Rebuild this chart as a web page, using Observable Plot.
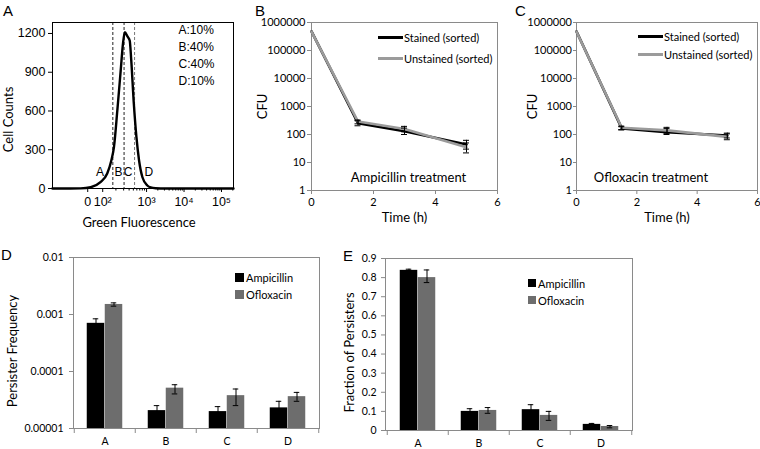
<!DOCTYPE html>
<html><head><meta charset="utf-8">
<script src="https://cdn.jsdelivr.net/npm/d3@7"></script>
<script src="https://cdn.jsdelivr.net/npm/@observablehq/plot@0.6"></script>
<style>
body{margin:0;background:#fff;}
#fig{position:relative;width:760px;height:449px;overflow:hidden;background:#fff;}
#fig svg{overflow:visible;}
.letter{position:absolute;font:15px "Liberation Sans",Arial,sans-serif;line-height:15px;color:#000;}
.leg{position:absolute;display:flex;align-items:center;height:14px;font:11px Lato,sans-serif;color:#000;white-space:nowrap;}
</style></head>
<body>
<div id="fig"></div>
<script>
// ---------- Panel A: histogram (display units: 10^3 -> 3, 10^4 -> 4 ...) ----------
const fluorPos   = [0.49,0.97,1.24,1.51,1.77,1.95,2.06,2.13,2.22,2.31,2.37,2.42,2.49,2.55,2.59,2.66,2.73,2.80,2.89,3.02,3.11,3.24,3.51,5.32];
const cellCounts = [0,0,1,10,49,116,217,320,604,914,1120,1210,1177,1146,1000,658,397,217,87,23,8,2,0,0];
const gatePos = [2.10, 2.40, 2.68];
const gateLetters = ["A","B","C","D"];
const gateLetterPos = [1.76, 2.25, 2.51, 3.06];
const gateLetterCount = 125;
const gatePercents = ["A:10%","B:40%","C:40%","D:10%"];
const fluorTickPos = [1.43, 1.83, 3, 4, 5];
const fluorTickLabels = ["0","10²","10³","10⁴","10⁵"];
const countTicks = [0,300,600,900,1200];
const countDomain = [0,1285];
const fluorDomain = [0.49,5.32];

// ---------- Panels B, C: CFU time courses ----------
const timeH = [0, 1.5, 3, 5];
const seriesNames = ["Stained (sorted)", "Unstained (sorted)"];
const ampStained     = [480000, 252, 131, 44];
const ampStainedLo   = [null, 205, 100, 30];
const ampStainedHi   = [null, 310, 170, 62];
const ampUnstained   = [470000, 290, 158, 35];
const ampUnstainedLo = [null, 240, 125, 22];
const ampUnstainedHi = [null, 330, 195, 50];
const oflStained     = [480000, 165, 120, 92];
const oflStainedLo   = [null, 145, 100, 75];
const oflStainedHi   = [null, 190, 165, 112];
const oflUnstained   = [470000, 175, 140, 82];
const oflUnstainedLo = [null, 150, 110, 65];
const oflUnstainedHi = [null, 200, 180, 105];
const cfuTicks = [1,10,100,1000,10000,100000,1000000];
const timeTicks = [0,2,4,6];

// ---------- Panels D, E: persisters ----------
const gates = ["A","B","C","D"];
const drugs = ["Ampicillin","Ofloxacin"];
const ampFreq   = [7.0e-4, 2.06e-5, 1.98e-5, 2.3e-5];
const ampFreqLo = [5.6e-4, 1.6e-5, 1.55e-5, 1.6e-5];
const ampFreqHi = [8.4e-4, 2.52e-5, 2.42e-5, 3.0e-5];
const oflFreq   = [1.5e-3, 5.1e-5, 3.77e-5, 3.62e-5];
const oflFreqLo = [1.4e-3, 4.04e-5, 2.52e-5, 3.0e-5];
const oflFreqHi = [1.6e-3, 5.86e-5, 4.93e-5, 4.3e-5];
const freqTicks = [1e-5,1e-4,1e-3,1e-2];
const ampFrac   = [0.838, 0.100, 0.109, 0.032];
const ampFracLo = [0.832, 0.086, 0.083, 0.027];
const ampFracHi = [0.844, 0.114, 0.135, 0.037];
const oflFrac   = [0.800, 0.105, 0.079, 0.021];
const oflFracLo = [0.774, 0.090, 0.053, 0.014];
const oflFracHi = [0.840, 0.120, 0.100, 0.026];
const fracTicks = [0,0.1,0.2,0.3,0.4,0.5,0.6,0.7,0.8,0.9];

const colors = {black:"#000000", grayLine:"#9b9b9b", grayBar:"#6d6d6d", frame:"#8a8a8a"};
const fig = document.getElementById("fig");
function put(el, left, top){ el.style.position="absolute"; el.style.left=left+"px"; el.style.top=top+"px"; fig.appendChild(el); return el; }

// ===== Panel A =====
const histRows = fluorPos.map((x,i)=>({x, c: cellCounts[i]}));
const minorA = [];
for (let m=2;m<=9;m++) minorA.push(1.83 + Math.log10(m)*1.17);
for (let k=3;k<=4;k++) for (let m=2;m<=9;m++) minorA.push(Math.log10(m*10**k));
minorA.push(Math.log10(2e5));
const plotA = Plot.plot({
  width: 250, height: 230, marginLeft: 52, marginRight: 17, marginTop: 22, marginBottom: 42,
  style: {fontFamily: '"Liberation Sans", Arial, sans-serif', fontSize: "12.5px", background: "transparent"},
  x: {domain: fluorDomain},
  y: {domain: countDomain},
  marks: [
    Plot.ruleX(gatePos, {stroke: (d,i)=> i===2 ? "#777" : "#222", strokeDasharray: "3,2", strokeWidth: 1}),
    Plot.line(histRows, {x: "x", y: "c", stroke: "#000", strokeWidth: 2.4, curve: "monotone-x"}),
    Plot.text(gateLetters, {x: (d,i)=>gateLetterPos[i], y: ()=>gateLetterCount, text: d=>d, fontSize: 12}),
    Plot.text([gatePercents.join("\n")], {frameAnchor: "top-left", dx: 126, dy: 0, lineHeight: 1.4, fontSize: 12, textAnchor: "start"}),
    Plot.axisY({ticks: countTicks, tickFormat: d => String(d), tickSize: 4, tickPadding: 3, label: null}),
    Plot.axisX({ticks: fluorTickPos, tickFormat: d => fluorTickLabels[fluorTickPos.indexOf(d)], tickSize: 4, tickPadding: 5, label: null}),
    Plot.axisX(minorA, {tickSize: 2.5, tickFormat: () => "", label: null}),
    Plot.frame({stroke: "#000"}),
    Plot.text(["Cell Counts"], {frameAnchor: "left", textAnchor: "middle", rotate: -90, dx: -44, dy: 14, fontFamily: "Lato", fontSize: 13}),
    Plot.text(["Green Fluorescence"], {frameAnchor: "bottom", lineAnchor: "middle", dx: -4, dy: 34, fontFamily: "Lato", fontSize: 13})
  ]
});
put(plotA, 0, 0);

// ===== Panels B, C =====
function cfuRows(vals){
  const rows = [];
  vals.forEach(([name, v, lo, hi]) => timeH.forEach((t,i)=> rows.push({series: name, t, v: v[i], lo: lo[i], hi: hi[i]})));
  return rows;
}
function cfuPlot(rows, treatment, opts){
  const errRows = rows.filter(d => d.lo != null);
  return Plot.plot({
    width: opts.width, height: 230, marginLeft: opts.ml, marginRight: 3, marginTop: 22, marginBottom: 40,
    style: {fontFamily: "Lato, sans-serif", fontSize: "11px", background: "transparent"},
    x: {domain: [timeTicks[0], timeTicks[timeTicks.length-1]]},
    y: {type: "log", domain: [cfuTicks[0], cfuTicks[cfuTicks.length-1]]},
    color: {domain: seriesNames, range: [colors.black, colors.grayLine]},
    marks: [
      Plot.frame({stroke: colors.frame}),
      Plot.axisX({ticks: timeTicks, tickFormat: d => String(d), tickSize: 4, tickPadding: 4, label: null, stroke: colors.frame}),
      Plot.axisY({ticks: cfuTicks, tickFormat: d => String(d), tickSize: opts.ts, tickPadding: opts.tp, label: null, stroke: colors.frame}),
      Plot.line(rows, {x: "t", y: "v", stroke: "series", strokeWidth: 2.6}),
      Plot.ruleX(errRows, {x: "t", y1: "lo", y2: "hi", stroke: "#000", strokeWidth: 1}),
      Plot.ruleY(errRows, {x1: "t", x2: "t", y: "lo", insetLeft: -3, insetRight: -3, stroke: "#000", strokeWidth: 1}),
      Plot.ruleY(errRows, {x1: "t", x2: "t", y: "hi", insetLeft: -3, insetRight: -3, stroke: "#000", strokeWidth: 1}),
      Plot.text([treatment], {frameAnchor: "bottom", lineAnchor: "middle", dx: opts.tdx, dy: -13, fontSize: 13}),
      Plot.text(["Time (h)"], {frameAnchor: "bottom", lineAnchor: "middle", dy: 27, fontSize: 13}),
      Plot.text(["CFU"], {frameAnchor: "left", textAnchor: "middle", rotate: -90, dx: opts.cfuDx, fontSize: 13})
    ]
  });
}
const rowsB = cfuRows([[seriesNames[0], ampStained, ampStainedLo, ampStainedHi],[seriesNames[1], ampUnstained, ampUnstainedLo, ampUnstainedHi]]);
const rowsC = cfuRows([[seriesNames[0], oflStained, oflStainedLo, oflStainedHi],[seriesNames[1], oflUnstained, oflUnstainedLo, oflUnstainedHi]]);
put(cfuPlot(rowsB, "Ampicillin treatment", {width: 250, ml: 61, ts: 4, tp: 2, tdx: 4, cfuDx: -49}), 250, 0);
put(cfuPlot(rowsC, "Ofloxacin treatment", {width: 260, ml: 76, ts: 3, tp: 1.5, tdx: -16, cfuDx: -44}), 500, 0);

function lineLegend(x, y, color, label){
  const d = document.createElement("div"); d.className = "leg";
  const s = document.createElement("span");
  s.style.cssText = `display:inline-block;width:25px;height:3px;background:${color};margin-right:1px;`;
  d.appendChild(s); d.appendChild(document.createTextNode(label));
  put(d, x, y - 7);
}
lineLegend(378, 37, colors.black, seriesNames[0]);
lineLegend(378, 58, colors.grayLine, seriesNames[1]);
lineLegend(638, 36, colors.black, seriesNames[0]);
lineLegend(638, 54, colors.grayLine, seriesNames[1]);

// ===== Panels D, E =====
function barRows(a, aLo, aHi, o, oLo, oHi){
  const rows = [];
  gates.forEach((g,i)=>{
    rows.push({gate: g, drug: drugs[0], v: a[i], lo: aLo[i], hi: aHi[i]});
    rows.push({gate: g, drug: drugs[1], v: o[i], lo: oLo[i], hi: oHi[i]});
  });
  return rows;
}
function barPlot(rows, o){
  const amp = rows.filter(d => d.drug === drugs[0]);
  const ofl = rows.filter(d => d.drug === drugs[1]);
  const base = o.yDomain[0];
  const errMarks = (data, dx, capL, capR) => [
    Plot.ruleX(data, {x: "gate", y1: "lo", y2: "hi", dx, stroke: "#000", strokeWidth: 1}),
    Plot.tickY(data, {x: "gate", y: "lo", insetLeft: capL, insetRight: capR, stroke: "#000", strokeWidth: 1}),
    Plot.tickY(data, {x: "gate", y: "hi", insetLeft: capL, insetRight: capR, stroke: "#000", strokeWidth: 1})
  ];
  return Plot.plot({
    width: o.width, height: 219, marginLeft: o.ml, marginRight: o.mr, marginTop: o.mt, marginBottom: o.mb,
    style: {fontFamily: "Lato, sans-serif", fontSize: "10.5px", background: "transparent"},
    x: {domain: gates, padding: 0},
    y: {type: o.yType, domain: o.yDomain},
    marks: [
      Plot.barY(amp, {x: "gate", y1: () => base, y2: "v", fill: colors.black, insetLeft: 12.75, insetRight: 30.75}),
      Plot.barY(ofl, {x: "gate", y1: () => base, y2: "v", fill: colors.grayBar, insetLeft: 30.75, insetRight: 12.75}),
      ...errMarks(amp, -9, 18.75, 36.75),
      ...errMarks(ofl, 9, 36.75, 18.75),
      Plot.frame({stroke: colors.frame}),
      Plot.axisX({tickSize: 0, tickPadding: 9, label: null}),
      Plot.axisX({tickSize: 5, tickFormat: () => "", dx: -30.75, label: null, stroke: colors.frame}),
      Plot.axisX([gates[gates.length-1]], {tickSize: 5, tickFormat: () => "", dx: 30.75, label: null, stroke: colors.frame}),
      Plot.axisY({ticks: o.ticks, tickFormat: o.fmt, tickSize: 4, tickPadding: o.tp, label: null, stroke: colors.frame}),
      Plot.text([o.ylabel], {frameAnchor: "left", textAnchor: "middle", rotate: -90, dx: o.ldx, dy: 8, fontSize: 13})
    ]
  });
}
const rowsD = barRows(ampFreq, ampFreqLo, ampFreqHi, oflFreq, oflFreqLo, oflFreqHi);
const rowsE = barRows(ampFrac, ampFracLo, ampFracHi, oflFrac, oflFracLo, oflFracHi);
put(barPlot(rowsD, {width: 335, ml: 73, mr: 16, mt: 27, mb: 21, yType: "log", yDomain: [freqTicks[0], freqTicks[freqTicks.length-1]],
  ticks: freqTicks, fmt: d => String(d), tp: 6, ylabel: "Persister Frequency", ldx: -61}), 0, 230);
put(barPlot(rowsE, {width: 425, ml: 50, mr: 128, mt: 28, mb: 19, yType: "linear", yDomain: [fracTicks[0], fracTicks[fracTicks.length-1]],
  ticks: fracTicks, fmt: d => d === 0 ? "0" : d.toFixed(1), tp: 5, ylabel: "Fraction of Persisters", ldx: -36}), 335, 230);

function boxLegend(x, y, color, label, size){
  const d = document.createElement("div"); d.className = "leg";
  const s = document.createElement("span");
  s.style.cssText = `display:inline-block;width:${size}px;height:${size}px;background:${color};margin-right:2px;`;
  d.appendChild(s); d.appendChild(document.createTextNode(label));
  put(d, x, y - 7);
}
boxLegend(235, 277, colors.black, drugs[0], 9);
boxLegend(235, 294, colors.grayBar, drugs[1], 9);
boxLegend(528, 283, colors.black, drugs[0], 8);
boxLegend(528, 300, colors.grayBar, drugs[1], 8);

// ===== Panel letters =====
[["A",3,3],["B",255,3],["C",515,3],["D",1,247],["E",343,248]].forEach(([t,x,y])=>{
  const d = document.createElement("div"); d.className = "letter"; d.textContent = t; put(d, x, y);
});
</script>
</body></html>
